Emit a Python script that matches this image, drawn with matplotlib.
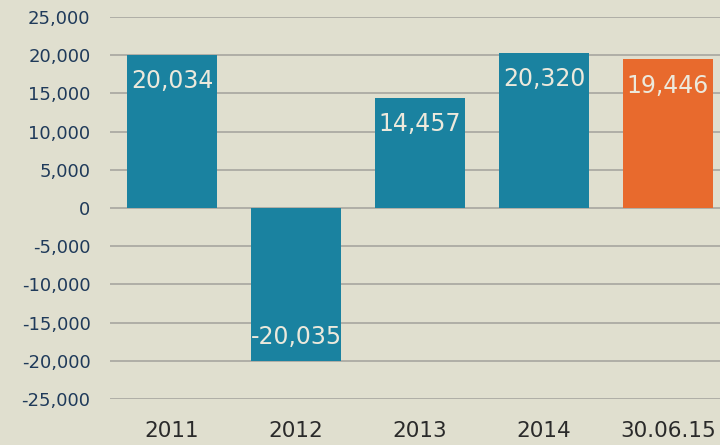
import matplotlib.pyplot as plt
from matplotlib.ticker import FuncFormatter

categories = ["2011", "2012", "2013", "2014", "30.06.15"]
values = [20034, -20035, 14457, 20320, 19446]
colors = ["#1a82a0", "#1a82a0", "#1a82a0", "#1a82a0", "#e86a2d"]

bg = "#e0dfcf"
fig = plt.figure(figsize=(7.2, 4.45), dpi=100, facecolor=bg)
ax = fig.add_axes([110 / 720, 46 / 445, 610 / 720, 382 / 445], facecolor=bg)

x = list(range(len(categories)))
ax.bar(x, values, width=0.72, color=colors, zorder=3)

for xi, v in zip(x, values):
    off = -19 if v > 0 else 17
    ax.annotate(f"{v:,}", (xi, v), xytext=(0, off), textcoords="offset points",
                ha="center", va="center", color="#ece9dc", fontsize=17,
                fontweight="medium", zorder=4)

ax.set_xlim(-0.5, 4.42)
ax.set_ylim(-25000, 25000)
ax.set_yticks(range(-25000, 25001, 5000))
ax.yaxis.set_major_formatter(FuncFormatter(lambda v, p: f"{int(v):,}".replace("\u2212", "-")))
ax.set_xticks(x)
ax.set_xticklabels(categories)
ax.tick_params(axis="y", length=0, pad=14, labelsize=13, labelcolor="#1f3a5a")
ax.tick_params(axis="x", length=0, pad=16, labelsize=15.5, labelcolor="#2a2a2a")
ax.grid(True, axis="y", color="#abaaa3", linewidth=1.3, zorder=0)
for s in ax.spines.values():
    s.set_visible(False)

fig.savefig("out.png", dpi=100, facecolor=bg)
